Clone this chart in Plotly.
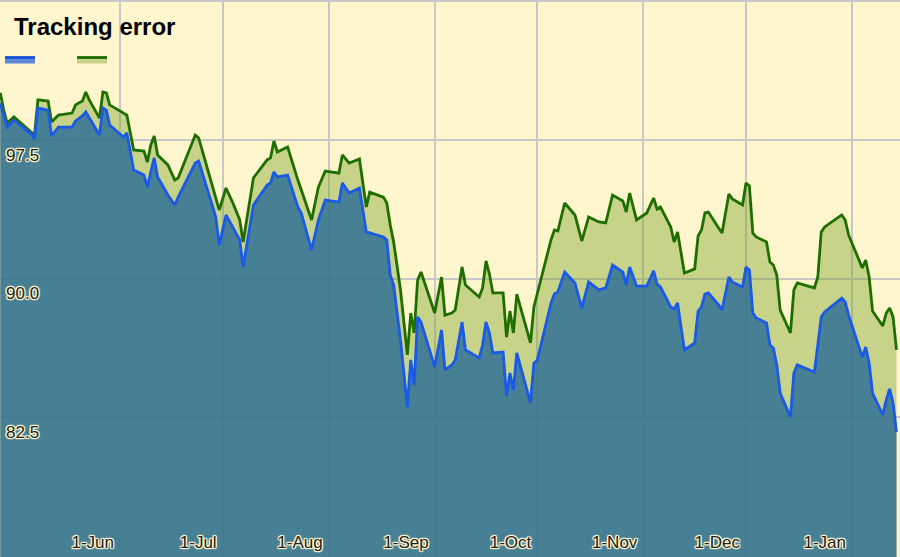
import plotly.graph_objects as go

dates = [
    "2010-04-27", "2010-04-28", "2010-04-29", "2010-05-01", "2010-05-06", "2010-05-07", "2010-05-08", "2010-05-11", "2010-05-12", "2010-05-14",
    "2010-05-18", "2010-05-19", "2010-05-21", "2010-05-22", "2010-05-23", "2010-05-26", "2010-05-27", "2010-05-28", "2010-05-29", "2010-06-02",
    "2010-06-03", "2010-06-05", "2010-06-08", "2010-06-09", "2010-06-10", "2010-06-11", "2010-06-12", "2010-06-15", "2010-06-17", "2010-06-18",
    "2010-06-23", "2010-06-24", "2010-06-29", "2010-06-30", "2010-07-02", "2010-07-04", "2010-07-06", "2010-07-07", "2010-07-10", "2010-07-14",
    "2010-07-15", "2010-07-16", "2010-07-17", "2010-07-20", "2010-07-23", "2010-07-24", "2010-07-27", "2010-07-29", "2010-07-31", "2010-08-04",
    "2010-08-05", "2010-08-07", "2010-08-10", "2010-08-12", "2010-08-13", "2010-08-17", "2010-08-18", "2010-08-19", "2010-08-20", "2010-08-22",
    "2010-08-24", "2010-08-25", "2010-08-26", "2010-08-27", "2010-08-28", "2010-09-01", "2010-09-03", "2010-09-04", "2010-09-06", "2010-09-07",
    "2010-09-09", "2010-09-10", "2010-09-14", "2010-09-15", "2010-09-16", "2010-09-17", "2010-09-18", "2010-09-21", "2010-09-22", "2010-09-23",
    "2010-09-24", "2010-09-25", "2010-09-29", "2010-09-30", "2010-10-01", "2010-10-05", "2010-10-06", "2010-10-07", "2010-10-09", "2010-10-12",
    "2010-10-14", "2010-10-16", "2010-10-19", "2010-10-21", "2010-10-23", "2010-10-26", "2010-10-27", "2010-10-28", "2010-10-30", "2010-11-02",
    "2010-11-04", "2010-11-05", "2010-11-06", "2010-11-09", "2010-11-10", "2010-11-11", "2010-11-13", "2010-11-16", "2010-11-17", "2010-11-18",
    "2010-11-19", "2010-11-20", "2010-11-23", "2010-11-24", "2010-11-26", "2010-11-27", "2010-11-30", "2010-12-01", "2010-12-02", "2010-12-03",
    "2010-12-04", "2010-12-07", "2010-12-08", "2010-12-09", "2010-12-10", "2010-12-11", "2010-12-14", "2010-12-15", "2010-12-16", "2010-12-21",
    "2010-12-22", "2010-12-23", "2010-12-24", "2010-12-29", "2010-12-30", "2010-12-31", "2011-01-04", "2011-01-05", "2011-01-06", "2011-01-07",
    "2011-01-10", "2011-01-11", "2011-01-12", "2011-01-13", "2011-01-14",
]

# upper (green) series
benchmark = [
    100.05, 99.12, 98.42, 98.75, 97.93, 97.77, 99.67, 99.61, 98.47, 98.85,
    98.96, 99.40, 99.61, 100.10, 99.67, 98.69, 100.10, 100.05, 99.40, 98.96,
    98.85, 96.96, 96.90, 96.31, 97.23, 97.72, 96.69, 96.15, 95.33, 95.44,
    97.77, 97.61, 94.25, 93.71, 94.90, 94.09, 93.17, 91.98, 95.44, 96.42,
    96.53, 97.45, 96.85, 97.12, 95.33, 94.79, 93.17, 94.95, 95.82, 95.71,
    96.69, 96.25, 96.47, 93.87, 94.68, 94.41, 94.09, 92.90, 91.98, 89.38,
    85.86, 88.13, 87.05, 89.92, 90.35, 88.13, 90.08, 88.02, 88.13, 88.29,
    90.62, 89.65, 89.00, 89.49, 90.95, 90.24, 89.22, 89.22, 86.83, 88.24,
    87.05, 89.16, 86.51, 88.46, 89.22, 92.09, 92.63, 92.57, 94.09, 93.44,
    92.03, 93.33, 93.06, 93.01, 94.52, 94.20, 93.60, 94.63, 93.17, 93.55,
    94.36, 93.76, 93.87, 92.79, 91.98, 92.52, 90.30, 90.52, 92.30, 92.63,
    93.55, 93.60, 92.73, 92.46, 94.58, 94.31, 93.98, 95.17, 95.01, 92.46,
    92.25, 91.98, 90.89, 90.73, 90.19, 88.29, 87.05, 89.38, 89.76, 89.49,
    90.08, 92.52, 92.79, 93.44, 93.17, 92.36, 90.57, 91.00, 90.08, 88.24,
    87.43, 88.13, 88.40, 87.92, 86.13,
]

# lower (blue) series
portfolio = [
    99.50, 98.85, 98.20, 98.58, 97.82, 97.55, 99.23, 99.12, 97.72, 98.20,
    98.20, 98.53, 98.80, 99.02, 98.69, 97.77, 99.23, 99.12, 98.31, 97.66,
    97.88, 95.88, 95.60, 94.95, 95.77, 96.53, 95.50, 94.52, 93.98, 94.41,
    96.25, 96.36, 93.33, 91.81, 93.44, 92.79, 92.09, 90.62, 93.98, 95.06,
    95.17, 95.77, 95.50, 95.60, 93.87, 93.55, 91.54, 93.17, 94.25, 94.14,
    95.17, 94.63, 94.90, 92.52, 92.46, 92.25, 92.09, 90.19, 89.65, 86.67,
    83.04, 85.59, 84.23, 87.92, 87.64, 85.21, 87.21, 85.05, 85.32, 85.59,
    87.64, 86.13, 85.70, 86.40, 87.64, 87.05, 85.97, 86.02, 83.64, 84.88,
    83.96, 85.97, 83.26, 85.42, 85.59, 88.67, 89.16, 89.27, 90.35, 89.76,
    88.40, 89.81, 89.38, 89.49, 90.73, 90.35, 89.65, 90.62, 89.59, 89.59,
    90.41, 89.70, 89.54, 88.46, 88.35, 88.67, 86.13, 86.51, 88.24, 88.46,
    89.16, 89.22, 88.57, 88.29, 90.08, 89.81, 89.54, 90.62, 90.46, 88.13,
    87.86, 87.59, 86.40, 86.24, 85.32, 83.80, 82.50, 84.88, 85.32, 84.94,
    86.40, 87.92, 88.19, 88.94, 88.73, 88.02, 85.75, 86.29, 85.42, 83.80,
    82.61, 83.42, 84.02, 83.26, 81.69,
]

month_ticks = ["2010-05-01", "2010-06-01", "2010-07-01", "2010-08-01", "2010-09-01",
               "2010-10-01", "2010-11-01", "2010-12-01", "2011-01-01"]
month_labels = ["", "1-Jun", "1-Jul", "1-Aug", "1-Sep", "1-Oct", "1-Nov", "1-Dec", "1-Jan"]
value_ticks = [82.5, 90.0, 97.5, 105.0]
value_labels = ["82.5", "90.0", "97.5", ""]

BG = "#fff6cd"
FONT = "Liberation Sans, Arial, sans-serif"
halo = ", ".join(f"{dx}px {dy}px 1px {BG}" for dx in (-1, 0, 1) for dy in (-1, 0, 1) if dx or dy)

fig = go.Figure()

fig.add_trace(go.Scatter(
    x=dates, y=benchmark, mode="lines", fill="tozeroy",
    line=dict(color="#1e6e00", width=2.8),
    fillcolor="rgba(120,160,40,0.41)",
    showlegend=False, hoverinfo="skip",
))
fig.add_trace(go.Scatter(
    x=dates, y=portfolio, mode="lines", fill="tozeroy",
    line=dict(color="#1a5ae6", width=2.8),
    fillcolor="rgba(52,114,149,0.87)",
    showlegend=False, hoverinfo="skip",
))

# legend swatches only (no labels in the original)
fig.add_trace(go.Scatter(
    x=[None], y=[None], mode="lines", fill="tozeroy", name="",
    line=dict(color="#1a4fd8", width=2.8), fillcolor="rgba(40,100,220,0.75)",
))
fig.add_trace(go.Scatter(
    x=[None], y=[None], mode="lines", fill="tozeroy", name="",
    line=dict(color="#1e6e00", width=2.8), fillcolor="rgba(120,160,40,0.41)",
))

fig.update_layout(
    width=900, height=557,
    margin=dict(l=0, r=0, t=0, b=0, pad=0),
    paper_bgcolor=BG, plot_bgcolor=BG,
    font=dict(family=FONT, color="#222222", size=17),
    title=dict(text="<b>Tracking error</b>", x=14 / 900, xanchor="left",
               y=1 - 27 / 557, yanchor="middle",
               font=dict(family=FONT, size=24, color="#000000")),
    showlegend=True,
    legend=dict(orientation="h", x=0, xanchor="left", y=1 - 45 / 557, yanchor="top",
                bgcolor="rgba(0,0,0,0)", entrywidth=27, entrywidthmode="pixels",
                font=dict(size=10)),
    xaxis=dict(
        range=["2010-04-26 22:00", "2011-01-15 00:40"],
        tickvals=month_ticks, ticktext=month_labels,
        ticklabelposition="inside left", ticks="", ticklabelstandoff=0, ticklabelshift=-6,
        showgrid=True, gridcolor="#c8c8c8", gridwidth=1.5,
        zeroline=False, showline=False, automargin=False,
        tickfont=dict(size=17, color="#222222", shadow=halo),
    ),
    yaxis=dict(
        range=[74.92, 105.08],
        tickvals=value_ticks, ticktext=value_labels,
        ticklabelposition="inside bottom", ticks="", ticklabelshift=3, ticklabelstandoff=3,
        showgrid=True, gridcolor="#c8c8c8", gridwidth=1.5,
        zeroline=False, showline=False, automargin=False,
        tickfont=dict(size=17, color="#222222", shadow=halo),
    ),
)

fig.write_html("out.html", config={"displayModeBar": False},
               post_script="document.body.style.margin = '0px';")
